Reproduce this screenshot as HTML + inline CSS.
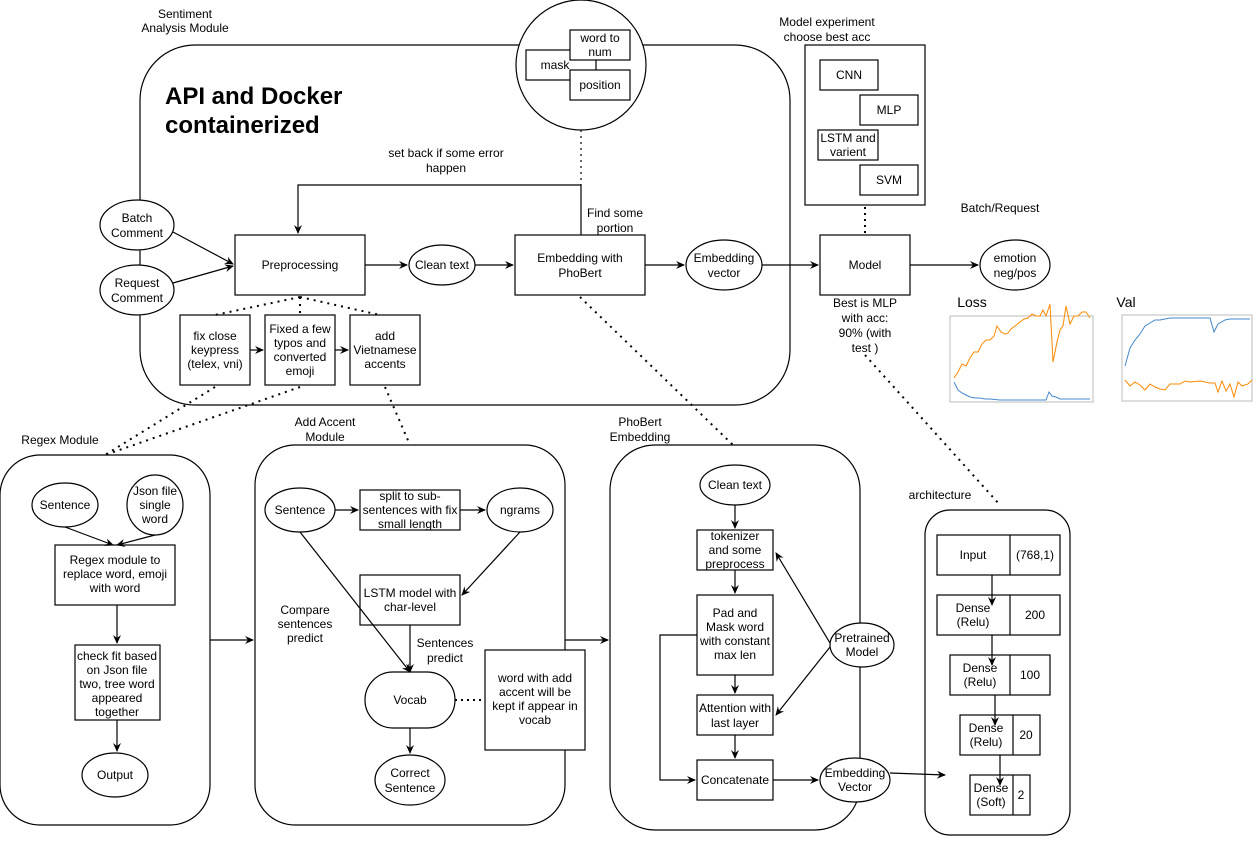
<!DOCTYPE html>
<html><head><meta charset="utf-8"><style>
html,body{margin:0;padding:0;background:#fff;}
svg text{font-family:"Liberation Sans",Arial,sans-serif;font-size:12px;fill:#000;text-anchor:middle;}
</style></head><body>
<svg width="1259" height="836" viewBox="0 0 1259 836" xmlns="http://www.w3.org/2000/svg">
<defs>
<marker id="a" markerWidth="10" markerHeight="10" refX="8" refY="5" orient="auto" markerUnits="userSpaceOnUse"><path d="M0,1 L9,5 L0,9 L3,5 Z" fill="#000"/></marker>
</defs>
<g fill="none" stroke="#000" stroke-width="1.2">
<rect x="140" y="45" width="650" height="360" rx="55"/>
<circle cx="581" cy="65" r="65" fill="#fff"/>
<rect x="526" y="50" width="70" height="30" fill="#fff"/>
<rect x="570" y="30" width="60" height="30" fill="#fff"/>
<rect x="570" y="70" width="60" height="30" fill="#fff"/>
<line x1="581" y1="130" x2="581" y2="185" stroke-dasharray="2,4"/>
<polyline points="581,235 581,185 298,185 298,233" marker-end="url(#a)"/>
<ellipse cx="137" cy="225" rx="37" ry="25" fill="#fff"/>
<ellipse cx="137" cy="290" rx="37" ry="25" fill="#fff"/>
<line x1="173" y1="232" x2="233" y2="264" marker-end="url(#a)"/>
<line x1="173" y1="283" x2="233" y2="266" marker-end="url(#a)"/>
<rect x="235" y="235" width="130" height="60" fill="#fff"/>
<line x1="365" y1="265" x2="407" y2="265" marker-end="url(#a)"/>
<ellipse cx="442" cy="265" rx="33" ry="20" fill="#fff"/>
<line x1="475" y1="265" x2="513" y2="265" marker-end="url(#a)"/>
<rect x="515" y="235" width="130" height="60" fill="#fff"/>
<line x1="645" y1="265" x2="684" y2="265" marker-end="url(#a)"/>
<ellipse cx="724" cy="265" rx="38" ry="25" fill="#fff"/>
<line x1="762" y1="265" x2="818" y2="265" marker-end="url(#a)"/>
<rect x="820" y="235" width="90" height="60" fill="#fff"/>
<line x1="910" y1="265" x2="978" y2="265" marker-end="url(#a)"/>
<ellipse cx="1015" cy="265" rx="35" ry="25" fill="#fff"/>
<rect x="805" y="45" width="120" height="160"/>
<rect x="820" y="60" width="58" height="30"/>
<rect x="860" y="95" width="58" height="30"/>
<rect x="818" y="130" width="60" height="30"/>
<rect x="860" y="165" width="58" height="30"/>
<line x1="865" y1="207" x2="865" y2="235" stroke-dasharray="2,4" stroke-width="2"/>
<line x1="865" y1="355" x2="1000" y2="505" stroke-dasharray="2,5" stroke-width="2"/>
<rect x="180" y="315" width="70" height="70" fill="#fff"/>
<rect x="265" y="315" width="70" height="70" fill="#fff"/>
<rect x="350" y="315" width="70" height="70" fill="#fff"/>
<line x1="250" y1="350" x2="263" y2="350" marker-end="url(#a)"/>
<line x1="335" y1="350" x2="348" y2="350" marker-end="url(#a)"/>
<g stroke-dasharray="2,5" stroke-width="2">
<line x1="300" y1="297" x2="215" y2="315"/>
<line x1="300" y1="297" x2="300" y2="315"/>
<line x1="300" y1="297" x2="380" y2="315"/>
<line x1="215" y1="387" x2="105" y2="455"/>
<line x1="300" y1="387" x2="105" y2="455"/>
<line x1="385" y1="387" x2="410" y2="445"/>
<line x1="580" y1="297" x2="733" y2="445"/>
</g>
<rect x="0" y="455" width="210" height="370" rx="40"/>
<ellipse cx="65" cy="505" rx="33" ry="22"/>
<ellipse cx="155" cy="505" rx="28" ry="30"/>
<line x1="65" y1="527" x2="113" y2="545" marker-end="url(#a)"/>
<line x1="155" y1="535" x2="117" y2="545" marker-end="url(#a)"/>
<rect x="55" y="545" width="120" height="60"/>
<line x1="117" y1="605" x2="117" y2="643" marker-end="url(#a)"/>
<rect x="75" y="645" width="85" height="75"/>
<line x1="117" y1="720" x2="117" y2="751" marker-end="url(#a)"/>
<ellipse cx="115" cy="775" rx="33" ry="22"/>
<line x1="210" y1="640" x2="253" y2="640" marker-end="url(#a)"/>
<rect x="255" y="445" width="310" height="380" rx="40"/>
<ellipse cx="300" cy="510" rx="35" ry="22"/>
<line x1="335" y1="510" x2="358" y2="510" marker-end="url(#a)"/>
<rect x="360" y="490" width="100" height="40"/>
<line x1="460" y1="510" x2="485" y2="510" marker-end="url(#a)"/>
<ellipse cx="520" cy="510" rx="33" ry="22"/>
<line x1="520" y1="532" x2="462" y2="595" marker-end="url(#a)"/>
<rect x="360" y="575" width="100" height="50"/>
<line x1="300" y1="532" x2="410" y2="672" marker-end="url(#a)"/>
<line x1="410" y1="625" x2="410" y2="672" marker-end="url(#a)"/>
<rect x="365" y="672" width="90" height="56" rx="28"/>
<line x1="455" y1="700" x2="485" y2="700" stroke-dasharray="2,4" stroke-width="2"/>
<rect x="485" y="650" width="100" height="100" fill="#fff"/>
<line x1="410" y1="728" x2="410" y2="753" marker-end="url(#a)"/>
<ellipse cx="410" cy="780" rx="35" ry="25"/>
<line x1="565" y1="640" x2="608" y2="640" marker-end="url(#a)"/>
<rect x="610" y="445" width="250" height="385" rx="45"/>
<ellipse cx="735" cy="485" rx="35" ry="20"/>
<line x1="735" y1="505" x2="735" y2="528" marker-end="url(#a)"/>
<rect x="697" y="530" width="76" height="40" fill="#fff"/>
<line x1="735" y1="570" x2="735" y2="593" marker-end="url(#a)"/>
<rect x="697" y="595" width="76" height="80" fill="#fff"/>
<line x1="735" y1="675" x2="735" y2="693" marker-end="url(#a)"/>
<rect x="697" y="695" width="76" height="40" fill="#fff"/>
<line x1="735" y1="735" x2="735" y2="758" marker-end="url(#a)"/>
<rect x="697" y="760" width="76" height="40" fill="#fff"/>
<polyline points="697,635 660,635 660,780 695,780" marker-end="url(#a)"/>
<line x1="773" y1="780" x2="818" y2="780" marker-end="url(#a)"/>
<ellipse cx="862" cy="645" rx="32" ry="22" fill="#fff"/>
<line x1="830" y1="643" x2="776" y2="553" marker-end="url(#a)"/>
<line x1="830" y1="647" x2="776" y2="715" marker-end="url(#a)"/>
<ellipse cx="855" cy="780" rx="35" ry="22" fill="#fff"/>
<line x1="890" y1="773" x2="945" y2="775" marker-end="url(#a)"/>
<rect x="925" y="510" width="145" height="325" rx="25"/>
<rect x="937" y="535" width="123" height="40"/><line x1="1010" y1="535" x2="1010" y2="575"/>
<line x1="992" y1="575" x2="992" y2="605" marker-end="url(#a)"/>
<rect x="937" y="595" width="123" height="40"/><line x1="1010" y1="595" x2="1010" y2="635"/>
<line x1="992" y1="635" x2="992" y2="665" marker-end="url(#a)"/>
<rect x="950" y="655" width="100" height="40"/><line x1="1010" y1="655" x2="1010" y2="695"/>
<line x1="995" y1="695" x2="995" y2="725" marker-end="url(#a)"/>
<rect x="960" y="715" width="80" height="40"/><line x1="1013" y1="715" x2="1013" y2="755"/>
<line x1="1000" y1="755" x2="1000" y2="785" marker-end="url(#a)"/>
<rect x="970" y="775" width="60" height="40"/><line x1="1013" y1="775" x2="1013" y2="815"/>
</g>
<g>
<rect x="945" y="315" width="150" height="90" fill="#fff"/>
<rect x="950" y="316" width="143" height="86" fill="none" stroke="#bbb"/>
<polyline fill="none" stroke="#f80" stroke-width="1" points="954,378 958,372 962,364 966,366 970,358 974,352 978,352 982,344 986,340 990,340 994,336 997,326 1001,332 1005,334 1008,333 1011,329 1015,326 1020,322 1024,319 1028,318 1032,314 1036,316 1040,316 1043,310 1046,316 1050,304 1053,362 1057,342 1060,330 1063,326 1066,306 1070,324 1074,316 1078,316 1082,312 1086,312 1090,318"/>
<polyline fill="none" stroke="#48c" stroke-width="1" points="954,382 958,390 962,393 966,395 970,397 975,398 980,398 985,399 990,399 1000,400 1040,400 1046,400 1049,392 1052,396 1056,397 1060,399 1090,399"/>
<rect x="1115" y="313" width="140" height="92" fill="#fff"/>
<rect x="1122" y="315" width="130" height="86" fill="none" stroke="#bbb"/>
<polyline fill="none" stroke="#48c" stroke-width="1" points="1125,366 1130,348 1135,340 1140,334 1145,326 1150,323 1155,320 1160,320 1165,319 1170,318 1180,318 1210,318 1214,332 1218,324 1225,320 1230,319 1250,319"/>
<polyline fill="none" stroke="#f80" stroke-width="1" points="1125,380 1130,386 1135,382 1140,385 1145,390 1150,384 1155,387 1160,389 1165,390 1170,384 1180,384 1185,381 1190,382 1200,381 1210,383 1215,383 1218,392 1222,381 1226,391 1230,384 1234,397 1238,382 1242,386 1248,384 1252,380"/>
</g>
<text x="185" y="18">Sentiment</text><text x="185" y="32">Analysis Module</text>
<text x="165" y="104" style="font-size:24px;font-weight:bold;text-anchor:start">API and Docker</text>
<text x="165" y="133" style="font-size:24px;font-weight:bold;text-anchor:start">containerized</text>
<text x="555" y="69">mask</text><text x="600" y="42">word to</text><text x="600" y="56">num</text><text x="600" y="89">position</text>
<text x="446" y="157">set back if some error</text><text x="446" y="172">happen</text>
<text x="615" y="217">Find some</text><text x="615" y="232">portion</text>
<text x="137" y="222">Batch</text><text x="137" y="237">Comment</text>
<text x="137" y="287">Request</text><text x="137" y="302">Comment</text>
<text x="300" y="269">Preprocessing</text>
<text x="442" y="269">Clean text</text>
<text x="580" y="262">Embedding with</text><text x="580" y="277">PhoBert</text>
<text x="724" y="262">Embedding</text><text x="724" y="277">vector</text>
<text x="865" y="269">Model</text>
<text x="1015" y="262">emotion</text><text x="1015" y="277">neg/pos</text>
<text x="1000" y="212">Batch/Request</text>
<text x="827" y="26">Model experiment</text><text x="827" y="41">choose best acc</text>
<text x="849" y="79">CNN</text><text x="889" y="114">MLP</text><text x="848" y="142">LSTM and</text><text x="848" y="156">varient</text><text x="889" y="184">SVM</text>
<text x="865" y="307">Best is MLP</text><text x="865" y="322">with acc:</text><text x="865" y="337">90% (with</text><text x="865" y="352">test )</text>
<text x="972" y="307" style="font-size:14px">Loss</text><text x="1126" y="307" style="font-size:14px">Val</text>
<text x="215" y="340">fix close</text><text x="215" y="354">keypress</text><text x="215" y="368">(telex, vni)</text>
<text x="300" y="333">Fixed a few</text><text x="300" y="347">typos and</text><text x="300" y="361">converted</text><text x="300" y="375">emoji</text>
<text x="385" y="340">add</text><text x="385" y="354">Vietnamese</text><text x="385" y="368">accents</text>
<text x="60" y="444">Regex Module</text>
<text x="65" y="509">Sentence</text>
<text x="155" y="495">Json file</text><text x="155" y="509">single</text><text x="155" y="523">word</text>
<text x="115" y="564">Regex module to</text><text x="115" y="578">replace word, emoji</text><text x="115" y="592">with word</text>
<text x="117" y="660">check fit based</text><text x="117" y="674">on Json file</text><text x="117" y="688">two, tree word</text><text x="117" y="702">appeared</text><text x="117" y="716">together</text>
<text x="115" y="779">Output</text>
<text x="325" y="426">Add Accent</text><text x="325" y="441">Module</text>
<text x="300" y="514">Sentence</text>
<text x="410" y="500">split to sub-</text><text x="410" y="514">sentences with fix</text><text x="410" y="528">small length</text>
<text x="520" y="514">ngrams</text>
<text x="410" y="597">LSTM model with</text><text x="410" y="611">char-level</text>
<text x="305" y="614">Compare</text><text x="305" y="628">sentences</text><text x="305" y="642">predict</text>
<text x="445" y="647">Sentences</text><text x="445" y="662">predict</text>
<text x="410" y="704">Vocab</text>
<text x="535" y="682">word with add</text><text x="535" y="696">accent will be</text><text x="535" y="710">kept if appear in</text><text x="535" y="724">vocab</text>
<text x="410" y="777">Correct</text><text x="410" y="792">Sentence</text>
<text x="640" y="426">PhoBert</text><text x="640" y="441">Embedding</text>
<text x="735" y="489">Clean text</text>
<text x="735" y="540">tokenizer</text><text x="735" y="554">and some</text><text x="735" y="568">preprocess</text>
<text x="735" y="617">Pad and</text><text x="735" y="631">Mask word</text><text x="735" y="645">with constant</text><text x="735" y="659">max len</text>
<text x="735" y="712">Attention with</text><text x="735" y="727">last layer</text>
<text x="735" y="784">Concatenate</text>
<text x="862" y="642">Pretrained</text><text x="862" y="656">Model</text>
<text x="855" y="777">Embedding</text><text x="855" y="791">Vector</text>
<text x="940" y="499">architecture</text>
<text x="973" y="559">Input</text><text x="1035" y="559">(768,1)</text>
<text x="973" y="612">Dense</text><text x="973" y="626">(Relu)</text><text x="1035" y="619">200</text>
<text x="980" y="672">Dense</text><text x="980" y="686">(Relu)</text><text x="1030" y="679">100</text>
<text x="986" y="732">Dense</text><text x="986" y="746">(Relu)</text><text x="1026" y="739">20</text>
<text x="991" y="792">Dense</text><text x="991" y="806">(Soft)</text><text x="1021" y="799">2</text>
</svg>
</body></html>
